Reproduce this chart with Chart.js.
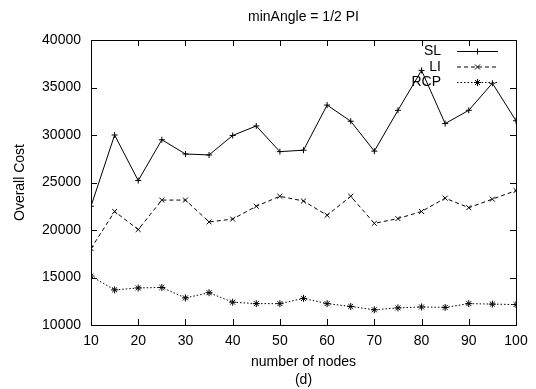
<!DOCTYPE html>
<html>
<head>
<meta charset="utf-8">
<script src="https://cdn.jsdelivr.net/npm/chart.js@4.4.0/dist/chart.umd.min.js"></script>
<style>
html, body { margin: 0; padding: 0; background: #fff; }
#wrap { width: 536px; height: 389px; }
</style>
</head>
<body>
<div id="wrap"><canvas id="grafico"></canvas></div>
<script>
// datos
let nodos = [10, 15, 20, 25, 30, 35, 40, 45, 50, 55, 60, 65, 70, 75, 80, 85, 90, 95, 100];
let costo_sl = [22500, 30000, 25200, 29500, 28000, 27900, 29950, 30950, 28250, 28400, 33150, 31450, 28300, 32600, 36800, 31200, 32600, 35450, 31500];
let costo_li = [18050, 21950, 20050, 23150, 23150, 20850, 21150, 22500, 23550, 23050, 21550, 23550, 20700, 21200, 21950, 23350, 22350, 23250, 24150];
let costo_rcp = [15150, 13700, 13900, 13950, 12850, 13400, 12400, 12250, 12250, 12800, 12250, 11950, 11600, 11800, 11900, 11850, 12250, 12200, 12150];
let ticks_x = [10, 20, 30, 40, 50, 60, 70, 80, 90, 100];
let ticks_y = [10000, 15000, 20000, 25000, 30000, 35000, 40000];

const fuente = "'Liberation Sans', Arial, Helvetica, sans-serif";

function pares(valores) {
    let salida = [];
    for (let i = 0; i < nodos.length; i++) {
        salida.push({x: nodos[i], y: valores[i]});
    }
    return salida;
}

// marco con ticks hacia adentro y leyenda estilo gnuplot
const marco = {
    id: 'marco',
    afterDraw(chart) {
        let ctx = chart.ctx;
        let area = chart.chartArea;
        let sx = chart.scales.x;
        let sy = chart.scales.y;
        let largo = 6;

        ctx.save();
        ctx.strokeStyle = '#000';
        ctx.lineWidth = 1;
        ctx.setLineDash([]);
        ctx.beginPath();
        ticks_x.forEach(function(v) {
            let px = Math.round(sx.getPixelForValue(v)) + 0.5;
            ctx.moveTo(px, area.bottom);
            ctx.lineTo(px, area.bottom - largo);
            ctx.moveTo(px, area.top);
            ctx.lineTo(px, area.top + largo);
        });
        ticks_y.forEach(function(v) {
            let py = Math.round(sy.getPixelForValue(v)) + 0.5;
            ctx.moveTo(area.left, py);
            ctx.lineTo(area.left + largo, py);
            ctx.moveTo(area.right, py);
            ctx.lineTo(area.right - largo, py);
        });
        ctx.stroke();
        ctx.strokeRect(Math.round(area.left) + 0.5, Math.round(area.top) + 0.5,
                       Math.round(area.right - area.left), Math.round(area.bottom - area.top));

        // leyenda
        let xTexto = area.right - 75;
        let x1 = area.right - 59;
        let x2 = area.right - 18;
        ctx.font = '14px ' + fuente;
        ctx.textAlign = 'right';
        ctx.textBaseline = 'middle';
        chart.data.datasets.forEach(function(ds, i) {
            let y = area.top + 11.5 + i * 15.5;
            ctx.fillStyle = '#000';
            ctx.fillText(ds.label, xTexto, y);
            ctx.strokeStyle = ds.borderColor;
            ctx.lineWidth = ds.borderWidth;
            ctx.setLineDash(ds.borderDash || []);
            ctx.beginPath();
            ctx.moveTo(x1, y);
            ctx.lineTo(x2, y);
            ctx.stroke();
            ctx.setLineDash([]);
            Chart.helpers.drawPoint(ctx, {
                pointStyle: ds.pointStyle,
                radius: ds.pointRadius,
                borderWidth: 1
            }, (x1 + x2) / 2, y);
        });
        ctx.restore();
    }
};

let graf_costo = document.getElementById('grafico');

let costo = new Chart(graf_costo, {
    type: 'line',
    data: {
        datasets: [{
            label: 'SL',
            data: pares(costo_sl),
            borderColor: '#000',
            backgroundColor: '#000',
            borderWidth: 1,
            pointStyle: 'cross',
            pointRadius: 3,
            pointBorderWidth: 1
        }, {
            label: 'LI',
            data: pares(costo_li),
            borderColor: '#000',
            backgroundColor: '#000',
            borderWidth: 1,
            borderDash: [4, 3],
            pointStyle: 'crossRot',
            pointRadius: 3.5,
            pointBorderWidth: 1
        }, {
            label: 'RCP',
            data: pares(costo_rcp),
            borderColor: '#000',
            backgroundColor: '#000',
            borderWidth: 1,
            borderDash: [1.5, 2],
            pointStyle: 'star',
            pointRadius: 3.5,
            pointBorderWidth: 1
        }]
    },
    options: {
        responsive: true,
        maintainAspectRatio: false,
        animation: false,
        layout: {
            padding: {top: 0, right: 20, bottom: 0, left: 0}
        },
        plugins: {
            legend: {display: false},
            tooltip: {enabled: false},
            title: {
                display: true,
                fullSize: false,
                text: 'minAngle = 1/2 PI',
                color: '#000',
                font: {family: fuente, size: 14, weight: 'normal', lineHeight: 1.2},
                padding: {top: 8.3, bottom: 14.9}
            }
        },
        scales: {
            x: {
                type: 'linear',
                min: 10,
                max: 100,
                afterBuildTicks: function(scale) {
                    scale.ticks = ticks_x.map(function(v) { return {value: v}; });
                },
                afterFit: function(scale) {
                    scale.height = 64;
                },
                grid: {display: false, drawTicks: false},
                border: {display: false},
                ticks: {
                    color: '#000',
                    padding: 8,
                    maxRotation: 0,
                    font: {family: fuente, size: 14}
                },
                title: {
                    display: true,
                    text: ['number of nodes', '(d)'],
                    color: '#000',
                    font: {family: fuente, size: 14, lineHeight: 1.25},
                    padding: {top: 0, bottom: 0.3}
                }
            },
            y: {
                min: 10000,
                max: 40000,
                afterBuildTicks: function(scale) {
                    scale.ticks = ticks_y.map(function(v) { return {value: v}; });
                },
                afterFit: function(scale) {
                    scale.width = 91;
                },
                grid: {display: false, drawTicks: false},
                border: {display: false},
                ticks: {
                    color: '#000',
                    padding: 10,
                    font: {family: fuente, size: 14},
                    callback: function(v) { return String(v); }
                },
                title: {
                    display: true,
                    text: 'Overall Cost',
                    color: '#000',
                    font: {family: fuente, size: 14, lineHeight: 1.2},
                    padding: {top: 11.6, bottom: 0}
                }
            }
        }
    },
    plugins: [marco]
});
</script>
</body>
</html>
